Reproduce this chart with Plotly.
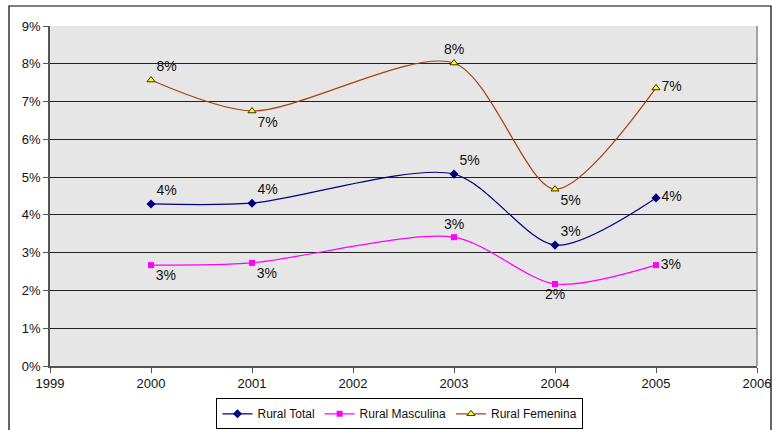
import plotly.graph_objects as go

years = [2000, 2001, 2003, 2004, 2005]
rural_total = [0.0429, 0.0431, 0.0508, 0.0320, 0.0445]
rural_masculina = [0.0267, 0.0273, 0.0341, 0.0217, 0.0267]
rural_femenina = [0.0757, 0.0675, 0.0802, 0.0468, 0.0736]

pos_total = ["top right", "top right", "top right", "top right", "middle right"]
pos_masc = ["bottom right", "bottom right", "top center", "bottom center", "middle right"]
pos_fem = ["top right", "bottom right", "top center", "bottom right", "middle right"]

font = "Liberation Sans, Arial, sans-serif"

def labels(vals):
    return [f"{round(v * 100):.0f}%" for v in vals]

fig = go.Figure()
fig.add_trace(go.Scatter(
    x=years, y=rural_total, name="Rural Total", mode="lines+markers+text",
    line=dict(color="#000080", width=1.2, shape="spline", smoothing=0.8),
    marker=dict(symbol="diamond", size=7, color="#000080"),
    text=labels(rural_total), textposition=pos_total,
    textfont=dict(size=14, color="#111", family=font)))
fig.add_trace(go.Scatter(
    x=years, y=rural_masculina, name="Rural Masculina", mode="lines+markers+text",
    line=dict(color="#FF00FF", width=1.2, shape="spline", smoothing=0.8),
    marker=dict(symbol="square", size=6, color="#FF00FF"),
    text=labels(rural_masculina), textposition=pos_masc,
    textfont=dict(size=14, color="#111", family=font)))
fig.add_trace(go.Scatter(
    x=years, y=rural_femenina, name="Rural Femenina", mode="lines+markers+text",
    line=dict(color="#A84210", width=1.2, shape="spline", smoothing=0.8),
    marker=dict(symbol="triangle-up", size=7, color="#FFFF00",
                line=dict(color="#333300", width=1)),
    text=labels(rural_femenina), textposition=pos_fem,
    textfont=dict(size=14, color="#111", family=font)))

fig.add_shape(type="rect", xref="paper", yref="paper",
              x0=(9 - 50) / 707, x1=(771 - 50) / 707,
              y0=(366 - 440) / 340, y1=(366 - 6) / 340,
              line=dict(color="#000", width=1.2), layer="below")

fig.update_layout(
    width=772, height=430,
    margin=dict(l=50, r=15, t=26, b=64, autoexpand=False),
    paper_bgcolor="white", plot_bgcolor="#e6e6e6",
    font=dict(family=font, size=13, color="#111"),
    showlegend=True,
    legend=dict(orientation="h", x=0.495, xanchor="center", y=-0.095, yanchor="top",
                bordercolor="#000", borderwidth=1, bgcolor="white",
                font=dict(size=12), itemwidth=30, tracegroupgap=0),
    xaxis=dict(range=[1999, 2006], dtick=1, tick0=1999, showgrid=False,
               ticks="outside", ticklen=5, tickcolor="#555", automargin=False,
               ticklabeloverflow="allow",
               showline=True, linecolor="#555", linewidth=1.5, zeroline=False),
    yaxis=dict(range=[0, 0.09], dtick=0.01, tickformat=".0%", showgrid=True,
               gridcolor="#222", gridwidth=1, ticks="outside", ticklen=5,
               tickcolor="#555", showline=True, linecolor="#555", linewidth=1.5,
               zeroline=False, automargin=False, ticklabeloverflow="allow"),
)
fig.add_shape(type="line", xref="paper", yref="paper", x0=1, x1=1, y0=0, y1=1,
              line=dict(color="#888", width=1.5))
fig.write_html("out.html")
